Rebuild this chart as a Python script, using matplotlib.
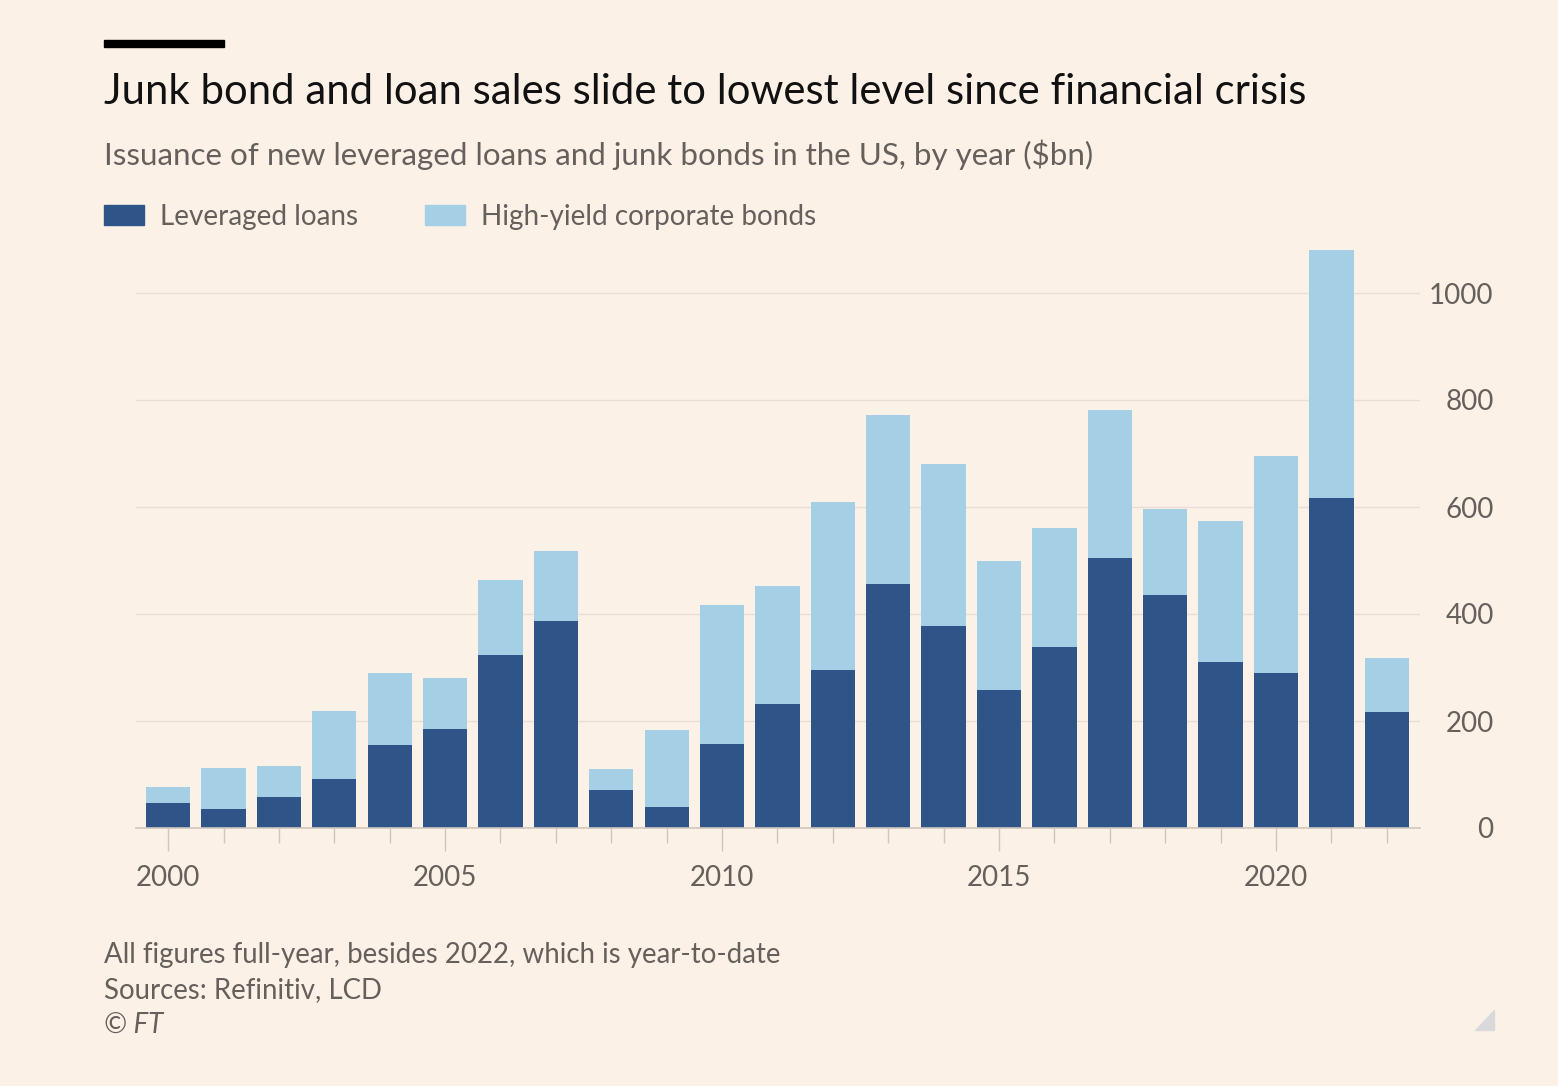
import matplotlib.pyplot as plt
from matplotlib.patches import Rectangle, Polygon
from matplotlib.ticker import MultipleLocator
import numpy as np

plt.rcParams['font.family'] = ['Lato', 'DejaVu Sans']

# Data ($bn)
years = list(range(2000, 2023))
loans = [47, 35, 58, 92, 155, 185, 323, 387, 71, 39, 157, 232, 295,
         456, 378, 258, 338, 505, 436, 310, 290, 617, 217]
bonds = [30, 77, 58, 127, 135, 95, 141, 131, 39, 144, 260, 220, 314,
         316, 302, 241, 223, 276, 160, 264, 405, 463, 101]
y_ticks = [0, 200, 400, 600, 800, 1000]
x_labels = [2000, 2005, 2010, 2015, 2020]

bg = '#FCF1E7'
c_loans = '#2F5488'
c_bonds = '#A5CFE5'
grey_text = '#66605C'

W, H = 1558, 1086
fig = plt.figure(figsize=(W / 100, H / 100), dpi=100, facecolor=bg)


def fx(px):
    return px / W


def fy(py):
    return 1 - py / H


# axes placed so that y=0 sits at 828 px and 1000 at 293 px
y_top = 1100
top_px = 828 - y_top * 0.535
ax = fig.add_axes([fx(136), fy(828), fx(1420) - fx(136), fy(top_px) - fy(828)])
ax.set_facecolor(bg)

ax.bar(years, loans, width=0.8, color=c_loans, zorder=3)
ax.bar(years, bonds, width=0.8, bottom=loans, color=c_bonds, zorder=3)

ax.set_xlim(1999.42, 2022.6)
ax.set_ylim(0, y_top)

for s in ['top', 'left', 'right']:
    ax.spines[s].set_visible(False)
ax.spines['bottom'].set_color('#CFC6BE')
ax.spines['bottom'].set_linewidth(1.2)
ax.spines['bottom'].set_zorder(4)

ax.yaxis.tick_right()
ax.set_yticks(y_ticks)
ax.set_yticklabels([str(v) for v in y_ticks])
ax.tick_params(axis='y', length=0, pad=53, labelsize=20, labelcolor=grey_text)
for lab in ax.get_yticklabels():
    lab.set_ha('right')
ax.grid(axis='y', color='#E8DED5', linewidth=1, zorder=0)
ax.grid(axis='x', visible=False)

ax.set_xticks(x_labels)
ax.set_xticklabels([str(v) for v in x_labels])
ax.xaxis.set_minor_locator(MultipleLocator(1))
ax.tick_params(axis='x', which='major', length=16.5, width=1, color='#CFC6BE',
               pad=10, labelsize=20, labelcolor=grey_text)
ax.tick_params(axis='x', which='minor', length=11, width=1, color='#CFC6BE')

# header
fig.patches.append(Rectangle((fx(104), fy(47)), fx(224) - fx(104), fy(40) - fy(47),
                             transform=fig.transFigure, color='black'))
fig.text(fx(104), fy(104), 'Junk bond and loan sales slide to lowest level since financial crisis',
         fontsize=30.2, color='#111111', va='baseline', ha='left')
fig.text(fx(104), fy(165), 'Issuance of new leveraged loans and junk bonds in the US, by year ($bn)',
         fontsize=22.6, color=grey_text, va='baseline', ha='left')

# legend
for x0, col, label in [(104, c_loans, 'Leveraged loans'), (425, c_bonds, 'High-yield corporate bonds')]:
    fig.patches.append(Rectangle((fx(x0), fy(225)), fx(40), fy(205) - fy(225),
                                 transform=fig.transFigure, color=col))
    fig.text(fx(x0 + 56), fy(225), label, fontsize=20.1, color=grey_text,
             va='baseline', ha='left')

# footer
fig.text(fx(104), fy(963), 'All figures full-year, besides 2022, which is year-to-date',
         fontsize=19.9, color=grey_text, va='baseline')
fig.text(fx(104), fy(998), 'Sources: Refinitiv, LCD',
         fontsize=19.9, color=grey_text, va='baseline')
fig.text(fx(104), fy(1033), '© FT', fontsize=19.9, color=grey_text,
         style='italic', va='baseline')

fig.patches.append(Polygon([[fx(1475), fy(1030)], [fx(1494), fy(1030)], [fx(1494), fy(1010)]],
                           closed=True, transform=fig.transFigure, color='#D9D9DC'))

fig.savefig('out.png', dpi=100, facecolor=bg)
